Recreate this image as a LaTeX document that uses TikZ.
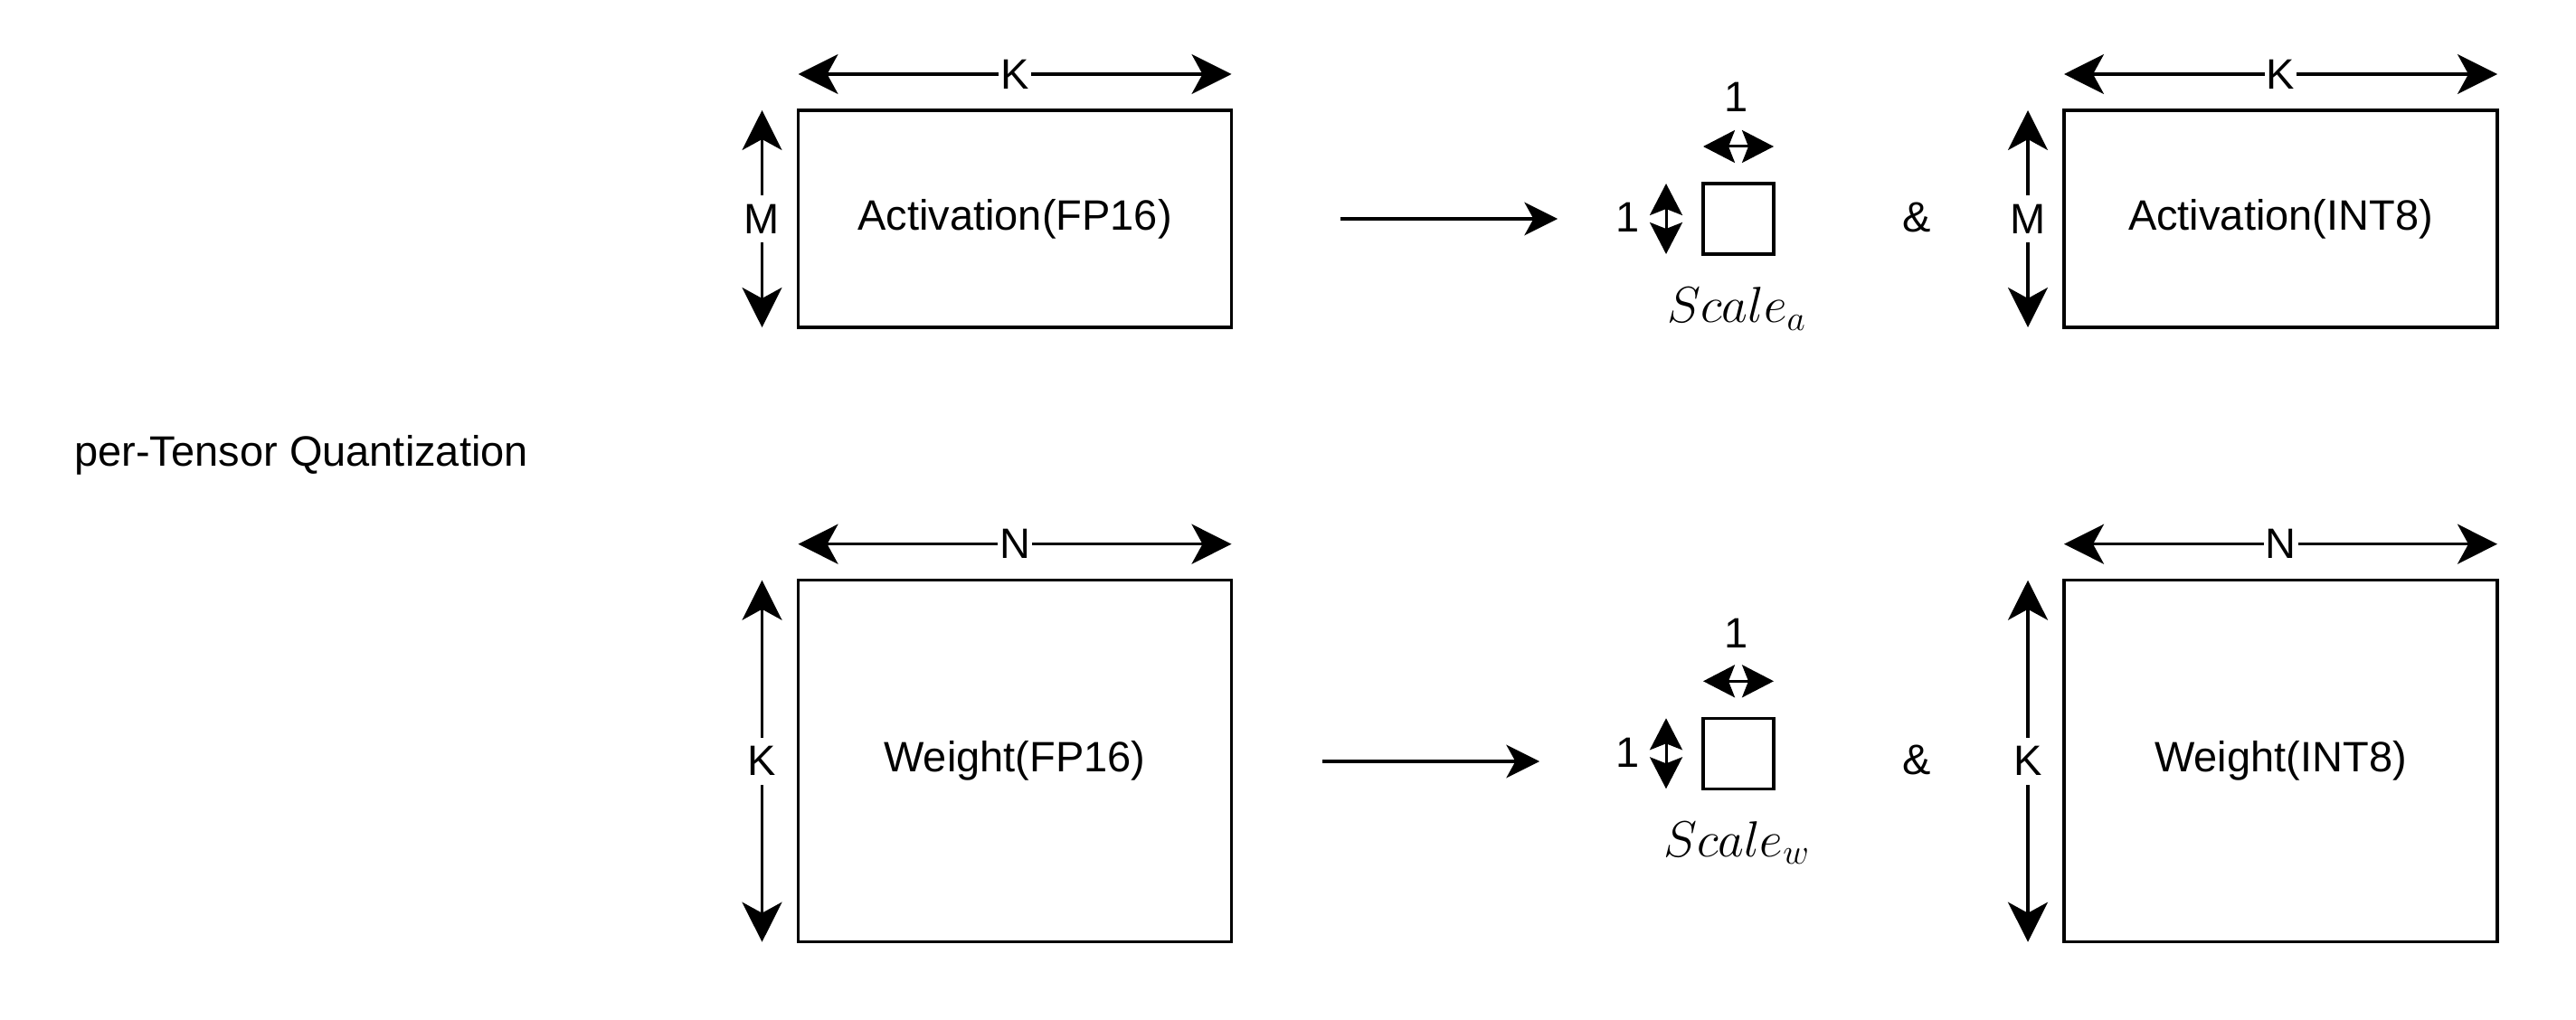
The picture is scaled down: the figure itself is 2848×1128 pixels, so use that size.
\RequirePackage{fix-cm}
\documentclass[tikz,border=0pt]{standalone}
\usepackage{fontspec}
\setmainfont{Liberation Sans}
\usetikzlibrary{arrows.meta}
\begin{document}
\begin{tikzpicture}[x=0.5pt,y=-0.5pt,
  every node/.style={font=\fontsize{23.5}{28}\selectfont},
  box/.style={draw, line width=1.65pt, outer sep=0pt, inner sep=0pt},
  dimarrow/.style={line width=1.65pt, {Stealth[length=22pt,width=22pt,inset=6pt]}-{Stealth[length=22pt,width=22pt,inset=6pt]}},
  unitarrow/.style={line width=1.5pt, {Stealth[length=17.5pt,width=18pt,inset=3.5pt]}-{Stealth[length=17.5pt,width=18pt,inset=3.5pt]}},
  flow/.style={line width=1.65pt, -{Stealth[length=18.3pt,width=18.3pt,inset=5pt]}},
  dimlabel/.style={fill=white, inner xsep=1pt, inner ysep=5pt},
  plain/.style={inner sep=0pt},
  scalelbl/.style={anchor=base, inner sep=0pt, font=\fontsize{28}{34}\selectfont},
]
\fill[white] (0,0) rectangle (2848,1128);
\useasboundingbox (0,0) rectangle (2848,1128);

% title
\node[plain, anchor=base west] (title) at (82,515) {per-Tensor Quantization};

% matrices
\node[box, minimum width=239.5pt, minimum height=120pt] (actF) at (1122,242) {Activation(FP16)};
\node[box, minimum width=239.5pt, minimum height=120pt] (actI) at (2521.5,242) {Activation(INT8)};
\node[box, minimum width=239.5pt, minimum height=200pt] (wF) at (1122,841.7) {Weight(FP16)};
\node[box, minimum width=239.5pt, minimum height=200pt] (wI) at (2521.5,841.7) {Weight(INT8)};

% scale squares
\node[box, minimum size=39pt] (sa) at (1922,242) {};
\node[box, minimum size=39pt] (sw) at (1922,833.3) {};

% dimension arrows: activation FP16
\draw[dimarrow] ([yshift=20pt]actF.north west) -- node[dimlabel] (kA) {K} ([yshift=20pt]actF.north east);
\draw[dimarrow] ([xshift=-20pt]actF.north west) -- node[dimlabel] (mA) {M} ([xshift=-20pt]actF.south west);
% activation INT8
\draw[dimarrow] ([yshift=20pt]actI.north west) -- node[dimlabel] (kAI) {K} ([yshift=20pt]actI.north east);
\draw[dimarrow] ([xshift=-20pt]actI.north west) -- node[dimlabel] (mAI) {M} ([xshift=-20pt]actI.south west);
% weight FP16
\draw[dimarrow] ([yshift=20pt]wF.north west) -- node[dimlabel] (nW) {N} ([yshift=20pt]wF.north east);
\draw[dimarrow] ([xshift=-20pt]wF.north west) -- node[dimlabel] (kW) {K} ([xshift=-20pt]wF.south west);
% weight INT8
\draw[dimarrow] ([yshift=20pt]wI.north west) -- node[dimlabel] (nWI) {N} ([yshift=20pt]wI.north east);
\draw[dimarrow] ([xshift=-20pt]wI.north west) -- node[dimlabel] (kWI) {K} ([xshift=-20pt]wI.south west);

% unit arrows on scale squares
\draw[unitarrow] ([yshift=20.5pt]sa.north west) -- ([yshift=20.5pt]sa.north east);
\draw[unitarrow] ([xshift=-20.5pt]sa.north west) -- ([xshift=-20.5pt]sa.south west);
\draw[unitarrow] ([yshift=20.5pt]sw.north west) -- ([yshift=20.5pt]sw.north east);
\draw[unitarrow] ([xshift=-20.5pt]sw.north west) -- ([xshift=-20.5pt]sw.south west);

\node[plain] (oneAt) at (1920,107) {1};
\node[plain] (oneAl) at (1800,240) {1};
\node[plain] (oneWt) at (1920,700) {1};
\node[plain] (oneWl) at (1800,832) {1};

\node[scalelbl] (scA) at (1920,357) {$Scale_a$};
\node[scalelbl] (scW) at (1920,947) {$Scale_w$};

% ampersands
\node[plain] (ampA) at (2119,240) {\&};
\node[plain] (ampW) at (2119,840) {\&};

% flow arrows
\coordinate (fa1) at (1482,242);
\coordinate (fa2) at (1722,242);
\coordinate (fw1) at (1462,842);
\coordinate (fw2) at (1702,842);
\draw[flow] (fa1) -- (fa2);
\draw[flow] (fw1) -- (fw2);
\end{tikzpicture}
\end{document}
